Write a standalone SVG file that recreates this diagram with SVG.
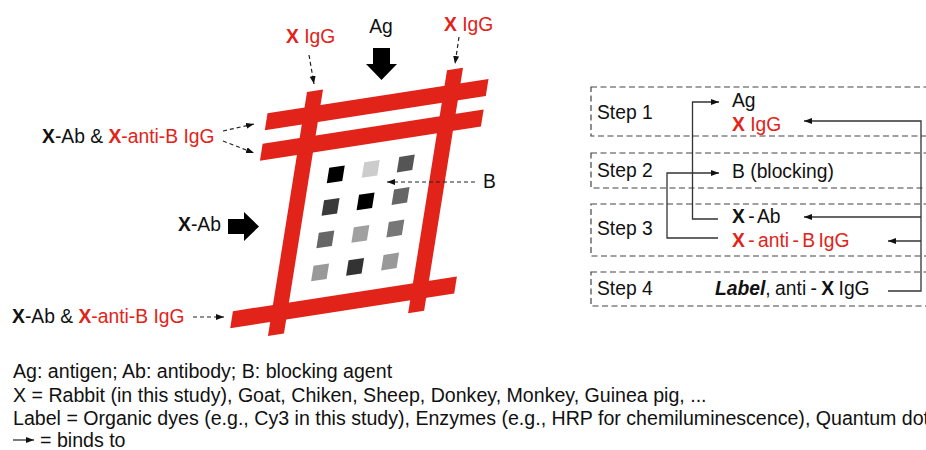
<svg xmlns="http://www.w3.org/2000/svg" width="926" height="450" viewBox="0 0 926 450">
  <defs>
    <style>
      text { font-family: "Liberation Sans", Arial, sans-serif; font-size: 19.3px; fill: #111; }
      .legend text { font-size: 19.6px; }
      .red { fill: #e2231a; }
      .b { font-weight: bold; }
      .bi { font-weight: bold; font-style: italic; }
      .bar { fill: #e2231a; }
      .dash { fill: none; stroke: #222; stroke-width: 1.2; stroke-dasharray: 4 3; marker-end: url(#tip); }
      .link { fill: none; stroke: #333; stroke-width: 1.3; }
      .arrowed { marker-end: url(#tip); }
      .box { fill: none; stroke: #444; stroke-width: 1.2; stroke-dasharray: 6 3.5; }
      .block { fill: #000; }
    </style>
    <marker id="tip" markerUnits="userSpaceOnUse" markerWidth="9" markerHeight="7" refX="8" refY="3" orient="auto">
      <path d="M0,0 L8,3 L0,6 z" fill="#111"/>
    </marker>
  </defs>

  <!-- slide: red sheared frame with spotted array -->
  <g id="slide" transform="matrix(1,-0.155,-0.16,1,307,92)">
    <rect class="bar" x="0" y="0" width="16" height="244"/>
    <rect class="bar" x="140" y="0" width="16" height="243"/>
    <rect class="bar" x="-37" y="15.5" width="221" height="17"/>
    <rect class="bar" x="-37" y="46" width="221" height="17"/>
    <rect class="bar" x="-40" y="213" width="224" height="17"/>
    <g id="spots">
      <rect x="35.25" y="81.25" width="15.5" height="15.5" fill="#000"/>
      <rect x="70.25" y="81.25" width="15.5" height="15.5" fill="#cccccc"/>
      <rect x="105.25" y="81.25" width="15.5" height="15.5" fill="#555555"/>
      <rect x="35.25" y="113.75" width="15.5" height="15.5" fill="#3a3a3a"/>
      <rect x="70.25" y="113.75" width="15.5" height="15.5" fill="#000"/>
      <rect x="105.25" y="113.75" width="15.5" height="15.5" fill="#666666"/>
      <rect x="35.25" y="146.25" width="15.5" height="15.5" fill="#666666"/>
      <rect x="70.25" y="146.25" width="15.5" height="15.5" fill="#a0a0a0"/>
      <rect x="105.25" y="146.25" width="15.5" height="15.5" fill="#777777"/>
      <rect x="35.25" y="179.25" width="15.5" height="15.5" fill="#999999"/>
      <rect x="70.25" y="179.25" width="15.5" height="15.5" fill="#333333"/>
      <rect x="105.25" y="179.25" width="15.5" height="15.5" fill="#999999"/>
    </g>
  </g>

  <!-- reagent labels around the slide -->
  <g id="ag-label">
    <text x="381" y="33" text-anchor="middle">Ag</text>
    <polygon class="block" points="373,48 390,48 390,64 397,64 381.5,80 366,64 373,64"/>
  </g>
  <g id="xigg-left">
    <text x="286" y="43" class="red"><tspan class="b">X</tspan> IgG</text>
  </g>
  <g id="xigg-right">
    <text x="444" y="31" class="red"><tspan class="b">X</tspan> IgG</text>
  </g>
  <g id="mix-upper">
    <text x="42" y="143"><tspan class="b">X</tspan>-Ab &amp; <tspan class="red b">X</tspan><tspan class="red">-anti-B IgG</tspan></text>
  </g>
  <g id="xab-mid">
    <text x="178" y="231"><tspan class="b">X</tspan>-Ab</text>
    <polygon class="block" points="228,219 244,219 244,212 259,226.5 244,241 244,234 228,234"/>
  </g>
  <g id="mix-lower">
    <text x="12" y="323"><tspan class="b">X</tspan>-Ab &amp; <tspan class="red b">X</tspan><tspan class="red">-anti-B IgG</tspan></text>
  </g>
  <g id="blocking-label">
    <text x="483" y="188">B</text>
  </g>

  <!-- dashed pointers -->
  <g id="pointers">
    <path class="dash" d="M309,55 L314,84"/>
    <path class="dash" d="M459,37 L455,64"/>
    <path class="dash" d="M223,131 L254,124"/>
    <path class="dash" d="M223,141 L254,153"/>
    <path class="dash" d="M193,317 L224,317"/>
    <path class="dash" d="M475,182 L387,182"/>
  </g>

  <!-- protocol steps -->
  <g id="step1">
    <rect class="box" x="591" y="87" width="400" height="49"/>
    <text x="597" y="119">Step 1</text>
    <text x="732" y="107">Ag</text>
    <text x="732" y="131" class="red"><tspan class="b">X</tspan> IgG</text>
  </g>
  <g id="step2">
    <rect class="box" x="591" y="153" width="400" height="35"/>
    <text x="597" y="177">Step 2</text>
    <text x="732" y="178">B (blocking)</text>
  </g>
  <g id="step3">
    <rect class="box" x="591" y="204" width="400" height="52"/>
    <text x="597" y="235">Step 3</text>
    <text x="732" y="223" word-spacing="-2"><tspan class="b">X</tspan> - Ab</text>
    <text x="732" y="247" class="red" word-spacing="-2"><tspan class="b">X</tspan> - anti - B IgG</text>
  </g>
  <g id="step4">
    <rect class="box" x="591" y="272" width="400" height="34"/>
    <text x="597" y="295">Step 4</text>
    <text x="715" y="295" word-spacing="-1"><tspan class="bi">Label</tspan>, anti - <tspan class="b">X</tspan> IgG</text>
  </g>

  <!-- binding connectors -->
  <g id="connectors">
    <path class="link arrowed" d="M718,219 H692.5 V102 H719"/>
    <path class="link arrowed" d="M718,238 H667 V173 H719"/>
    <path class="link arrowed" d="M888,291 H921 V121 H804"/>
    <path class="link arrowed" d="M921,217 H804"/>
    <path class="link arrowed" d="M921,241 H888"/>
  </g>

  <!-- legend -->
  <g id="legend" class="legend">
    <text x="13" y="378">Ag: antigen; Ab: antibody; B: blocking agent</text>
    <text x="13" y="401.5">X = Rabbit (in this study), Goat, Chiken, Sheep, Donkey, Monkey, Guinea pig, ...</text>
    <text x="13" y="424.5">Label = Organic dyes (e.g., Cy3 in this study), Enzymes (e.g., HRP for chemiluminescence), Quantum dot</text>
    <path class="link arrowed" d="M13,440 H34"/>
    <text x="40" y="447">= binds to</text>
  </g>
</svg>
